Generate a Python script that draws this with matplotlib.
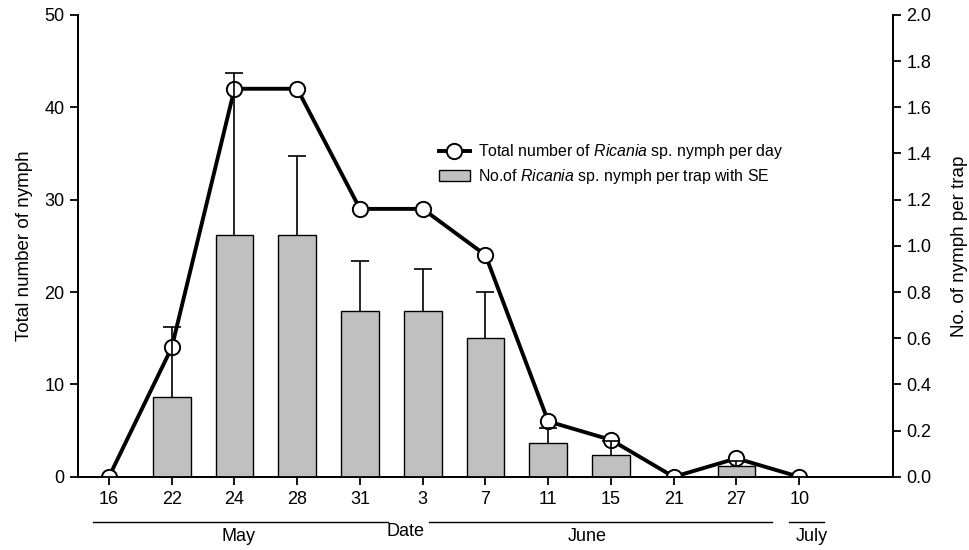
import matplotlib
matplotlib.use("Agg")
import matplotlib.pyplot as plt
import numpy as np

plt.rcParams['font.family'] = ['Liberation Sans', 'DejaVu Sans']
plt.rcParams['mathtext.fontset'] = 'custom'
plt.rcParams['mathtext.it'] = 'Liberation Sans:italic'
plt.rcParams['mathtext.rm'] = 'Liberation Sans'

# datos
fechas = ['16', '22', '24', '28', '31', '3', '7', '11', '15', '21', '27', '10']
total_dia = [0, 14, 42, 42, 29, 29, 24, 6, 4, 0, 2, 0]
por_trampa = [0, 0.345, 1.045, 1.045, 0.72, 0.72, 0.6, 0.146, 0.095, 0, 0.045, 0]
se_trampa = [0, 0.305, 0.705, 0.345, 0.215, 0.18, 0.2, 0.064, 0.06, 0, 0.025, 0]
meses = ['May', 'June', 'July']

x = np.arange(len(fechas))

fig = plt.figure(figsize=(9.7, 5.5), dpi=100)
ax = fig.add_axes([0.080, 0.133, 0.841, 0.840])
ax2 = ax.twinx()

##linea total por dia (eje izquierdo)
ax.plot(x, total_dia, color='black', lw=2.8, marker='o', ms=11,
        mfc='white', mec='black', mew=1.4, zorder=3,
        label='Total number of $\\it{Ricania}$ sp. nymph per day')

##barras por trampa (eje derecho)
err_bajo = [0] * len(se_trampa)
ax2.bar(x, por_trampa, width=0.6, color='#c0c0c0', edgecolor='black',
        linewidth=1.0, zorder=2,
        label='No.of $\\it{Ricania}$ sp. nymph per trap with SE')
eb = ax2.errorbar(x[1:-1], por_trampa[1:-1], yerr=[err_bajo[1:-1], se_trampa[1:-1]],
                  fmt='none', ecolor='black', elinewidth=1.2, capsize=6.5,
                  capthick=1.2, zorder=4)
##solo la tapa de arriba
eb[1][0].set_visible(False)

ax.set_xlim(-0.5, 12.5)
ax.set_ylim(0, 50)
ax2.set_ylim(0, 2.0)
ax.set_yticks(np.arange(0, 51, 10))
ax2.set_yticks(np.arange(0, 2.01, 0.2))
ax2.set_yticklabels(['%.1f' % v for v in np.arange(0, 2.01, 0.2)])
ax.set_xticks(x)
ax.set_xticklabels(fechas)

for a in (ax, ax2):
    a.spines['top'].set_visible(False)
    for s in ('left', 'right', 'bottom'):
        a.spines[s].set_linewidth(1.3)
    a.tick_params(direction='out', length=6, width=1.3, labelsize=13)
ax.tick_params(axis='x', pad=4)

ax.set_ylabel('Total number of nymph', fontsize=13.5, labelpad=8)
ax2.set_ylabel('No. of nymph per trap', fontsize=13.5, labelpad=14)

##lineas de los meses bajo el eje
tr = ax.get_xaxis_transform()
tramos = [(-0.26, 4.44), (5.1, 10.56), (10.83, 11.39)]
centros = [2.06, 7.62, 11.2]
for (a0, a1), c, m in zip(tramos, centros, meses):
    ax.plot([a0, a1], [-0.097, -0.097], color='black', lw=1.0,
            transform=tr, clip_on=False)
    ax.text(c, -0.11, m, transform=tr, ha='center', va='top', fontsize=13)
ax.text(4.73, -0.1, 'Date', transform=tr, ha='center', va='top', fontsize=13)

h1, l1 = ax.get_legend_handles_labels()
h2, l2 = ax2.get_legend_handles_labels()
ax2.legend(h1 + h2, l1 + l2, loc='upper left', bbox_to_anchor=(0.425, 0.755),
           frameon=False, fontsize=11.4, handlelength=2.0, handletextpad=0.5,
           labelspacing=0.35)

fig.savefig('out.png', dpi=100)
